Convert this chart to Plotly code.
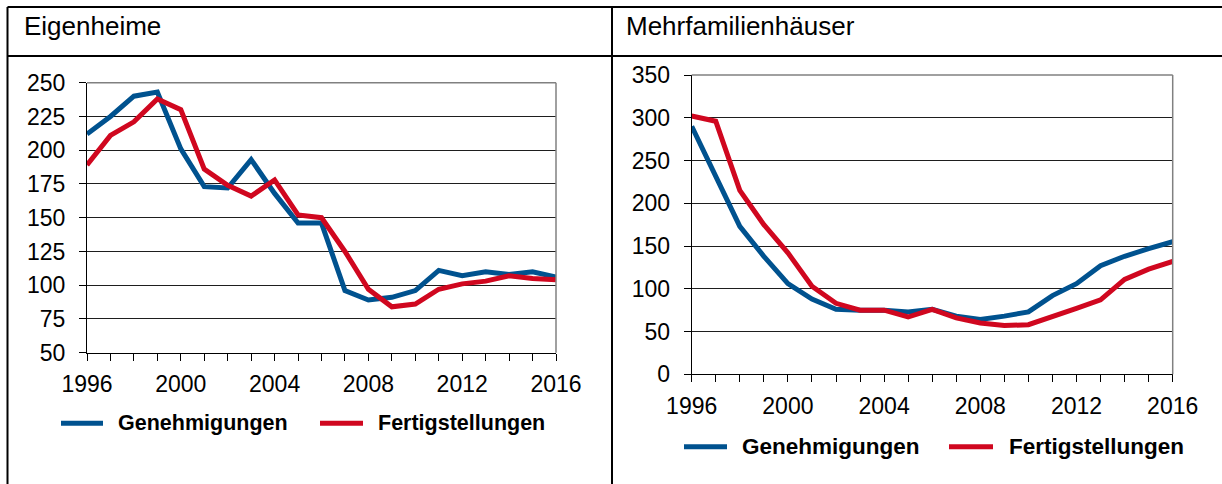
import plotly.graph_objects as go

# ---------------- data ----------------
years = list(range(1996, 2017))
eigen_genehmigungen = [212, 225, 240, 243, 201, 173, 172, 193, 168, 146, 146, 96, 89, 91, 96, 111, 107, 110, 108, 110, 106]
eigen_fertigstellungen = [189, 211, 221, 238, 230, 186, 174, 166, 178, 152, 150, 125, 97, 84, 86, 97, 101, 103, 107, 105, 104]
mfh_genehmigungen = [290, 233, 173, 138, 106, 88, 76, 75, 75, 73, 76, 68, 64, 68, 73, 92, 106, 127, 138, 147, 155]
mfh_fertigstellungen = [302, 296, 215, 175, 142, 103, 83, 75, 75, 67, 76, 66, 60, 57, 58, 67, 77, 87, 111, 123, 132]
panel_titles = ["Eigenheime", "Mehrfamilienhäuser"]
series_names = ["Genehmigungen", "Fertigstellungen"]
year_ticks = [1996, 2000, 2004, 2008, 2012, 2016]

# ---------------- style ----------------
W, H = 1222, 484
BLUE = "#00528f"
RED = "#d0071f"
FONT = "Liberation Sans, Arial, sans-serif"


def px(x):
    return x / W


def py(y):
    return (H - y) / H


fig = go.Figure()

fig.add_trace(go.Scatter(x=years, y=eigen_genehmigungen, name=series_names[0], mode="lines",
                         line=dict(color=BLUE, width=5), xaxis="x", yaxis="y", showlegend=False))
fig.add_trace(go.Scatter(x=years, y=eigen_fertigstellungen, name=series_names[1], mode="lines",
                         line=dict(color=RED, width=5), xaxis="x", yaxis="y", showlegend=False))
fig.add_trace(go.Scatter(x=years, y=mfh_genehmigungen, name=series_names[0], mode="lines",
                         line=dict(color=BLUE, width=5), xaxis="x2", yaxis="y2", showlegend=False))
fig.add_trace(go.Scatter(x=years, y=mfh_fertigstellungen, name=series_names[1], mode="lines",
                         line=dict(color=RED, width=5), xaxis="x2", yaxis="y2", showlegend=False))


def xaxis_cfg(domain, anchor):
    return dict(domain=domain, anchor=anchor, range=[1996, 2016], tickvals=year_ticks,
                ticks="outside", ticklen=7, tickcolor="#000", tickwidth=1,
                showline=True, linecolor="#000", linewidth=1, showgrid=False, zeroline=False,
                tickfont=dict(family=FONT, size=23, color="#000"), ticklabelstandoff=4,
                minor=dict(dtick=1, tick0=1996, ticks="outside", ticklen=7, tickcolor="#000",
                           tickwidth=1, showgrid=False),
                automargin=False, fixedrange=True)


def yaxis_cfg(domain, anchor, rng, dtick):
    return dict(domain=domain, anchor=anchor, range=rng, dtick=dtick, tick0=0,
                ticks="outside", ticklen=7, tickcolor="#000", tickwidth=1,
                showline=True, linecolor="#000", linewidth=1,
                showgrid=True, gridcolor="#1e1e1e", gridwidth=1, zeroline=False,
                tickfont=dict(family=FONT, size=23, color="#000"), ticklabelstandoff=9,
                automargin=False, fixedrange=True)


fig.update_layout(
    width=W, height=H, autosize=False,
    margin=dict(l=0, r=0, t=0, b=0, pad=0, autoexpand=False),
    paper_bgcolor="white", plot_bgcolor="white",
    font=dict(family=FONT, color="#000"),
    xaxis=xaxis_cfg([px(87), px(556)], "y"),
    yaxis=yaxis_cfg([py(352.7), py(82.7)], "x", [50, 250], 25),
    xaxis2=xaxis_cfg([px(691.7), px(1172.7)], "y2"),
    yaxis2=yaxis_cfg([py(374.3), py(75)], "x2", [0, 350], 50),
    showlegend=False,
)

shapes = []
# plot-area top/right borders (gray)
for xa, ya in (("x", "y"), ("x2", "y2")):
    shapes.append(dict(type="line", xref=f"{xa} domain", yref=f"{ya} domain", x0=1, x1=1, y0=0, y1=1,
                       line=dict(color="#808080", width=1.5), layer="above"))
    shapes.append(dict(type="line", xref=f"{xa} domain", yref=f"{ya} domain", x0=0, x1=1, y0=1, y1=1,
                       line=dict(color="#808080", width=1.5), layer="above"))

# table frame (no right border visible in the reference)
for (x0, y0, x1, y1) in [(7.5, 7, 1222, 7), (7.5, 56, 1222, 56), (7.5, 7, 7.5, 484),
                         (612, 7, 612, 484)]:
    shapes.append(dict(type="line", xref="paper", yref="paper", x0=px(x0), x1=px(x1), y0=py(y0), y1=py(y1),
                       line=dict(color="#000", width=2)))

annotations = [
    dict(text=panel_titles[0], x=px(22), y=py(26), xref="paper", yref="paper", xanchor="left",
         yanchor="middle", showarrow=False, font=dict(family=FONT, size=26, color="#000")),
    dict(text=panel_titles[1], x=px(624), y=py(26), xref="paper", yref="paper", xanchor="left",
         yanchor="middle", showarrow=False, font=dict(family=FONT, size=26, color="#000")),
]

# legends (one per panel)
legend_specs = [
    (423.3, [(61, 103, 116, BLUE, series_names[0]), (320, 363, 376, RED, series_names[1])], 21.5),
    (446.7, [(684, 727, 740, BLUE, series_names[0]), (949, 993, 1007, RED, series_names[1])], 22.5),
]
for ly, items, fs in legend_specs:
    for (lx0, lx1, tx, col, nm) in items:
        shapes.append(dict(type="line", xref="paper", yref="paper", x0=px(lx0), x1=px(lx1),
                           y0=py(ly), y1=py(ly), line=dict(color=col, width=5)))
        annotations.append(dict(text=f"<b>{nm}</b>", x=px(tx), y=py(ly), xref="paper", yref="paper",
                                xanchor="left", yanchor="middle", showarrow=False,
                                font=dict(family=FONT, size=fs, color="#000")))

fig.update_layout(shapes=shapes, annotations=annotations)

fig.write_html("out.html",
               config={"displayModeBar": False, "staticPlot": True},
               post_script="document.body.style.margin='0';document.body.style.overflow='hidden';")
